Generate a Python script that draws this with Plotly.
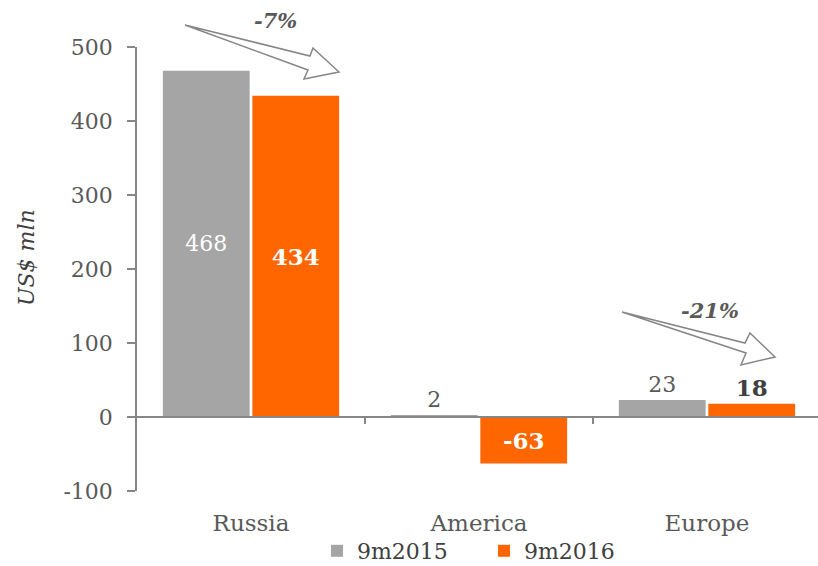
import plotly.graph_objects as go

# Data
regions = ["Russia", "America", "Europe"]
series_names = ["9m2015", "9m2016"]
values_2015 = [468, 2, 23]
values_2016 = [434, -63, 18]
change_labels = ["-7%", "-21%"]
y_ticks = [-100, 0, 100, 200, 300, 400, 500]

GRAY = "#A5A5A5"
ORANGE = "#FF6600"
TEXT = "#595959"
AXIS = "#868686"
FONT = "DejaVu Serif, Georgia, serif"

W, H = 818, 566
L, R, T, B = 137, 0, 47, 75
PW, PH = W - L - R, H - T - B


def px(x, y):
    """Pixel position -> paper coordinates."""
    return (x - L) / PW, (H - B - y) / PH


fig = go.Figure()

fig.add_trace(go.Bar(
    name=series_names[0], x=regions, y=values_2015,
    marker=dict(color=GRAY, line=dict(width=0)),
    text=[str(v) for v in values_2015],
    textposition=["inside", "outside", "outside"],
    insidetextanchor="middle",
    textfont=dict(family=FONT, size=22, color=["white", TEXT, TEXT]),
    cliponaxis=False,
))
fig.add_trace(go.Bar(
    name=series_names[1], x=regions, y=values_2016,
    marker=dict(color=ORANGE, line=dict(width=0)),
    text=[f"<b>{v}</b>" for v in values_2016],
    textposition=["inside", "inside", "outside"],
    insidetextanchor="middle",
    textfont=dict(family=FONT, size=23, color=["white", "white", "#404040"]),
    cliponaxis=False,
))

# Invisible helper trace so the zero-line axis renders
fig.add_trace(go.Scatter(x=[0], y=[0], xaxis="x2", mode="markers",
                         marker=dict(opacity=0), showlegend=False,
                         hoverinfo="skip"))

fig.update_layout(
    width=W, height=H,
    margin=dict(l=L, r=R, t=T, b=B, autoexpand=False),
    paper_bgcolor="white", plot_bgcolor="white",
    barmode="group", bargap=0.215, bargroupgap=0.03,
    font=dict(family=FONT, color=TEXT, size=22),
    showlegend=True,
    legend=dict(orientation="h", x=px(484, 0)[0], xanchor="center",
                y=px(0, 551)[1], yanchor="middle",
                font=dict(family=FONT, size=22, color="#404040"),
                itemwidth=30, entrywidth=122, bgcolor="rgba(0,0,0,0)"),
    xaxis=dict(range=[-0.5, 2.487], showline=False, ticks="",
               showgrid=False, zeroline=False, ticklabelstandoff=16,
               tickfont=dict(family=FONT, size=23, color=TEXT)),
    xaxis2=dict(overlaying="x", anchor="free", position=100 / 600,
                range=[-0.5, 2.487], tickvals=[0.5, 1.5],
                showticklabels=False, showline=True, linecolor=AXIS,
                linewidth=2, ticks="outside", ticklen=6, tickcolor=AXIS,
                tickwidth=1.5, showgrid=False, zeroline=False,
                layer="above traces"),
    yaxis=dict(range=[-100, 500], tickvals=y_ticks,
               ticktext=[str(v) for v in y_ticks], showgrid=False,
               zeroline=False, showline=True, linecolor=AXIS, linewidth=1.5,
               ticks="outside", ticklen=8, tickcolor=AXIS, tickwidth=1.5,
               ticklabelstandoff=10,
               tickfont=dict(family=FONT, size=22, color=TEXT)),
)

# Y axis title
tx, ty = px(26, 258)
fig.add_annotation(text="<i>US$ mln</i>", xref="paper", yref="paper",
                   x=tx, y=ty, xanchor="center", yanchor="middle",
                   textangle=-90, showarrow=False,
                   font=dict(family=FONT, size=22, color="#404040"))

# Block arrows showing year-on-year change
arrows = [
    [(185, 25), (310, 56), (313, 48), (339, 72), (304, 79), (308, 70)],
    [(622, 312), (745, 343), (750, 333), (775, 357), (741, 365), (746, 353)],
]
for pts in arrows:
    coords = [px(*p) for p in pts]
    path = "M" + " L".join(f"{x:.4f},{y:.4f}" for x, y in coords) + " Z"
    fig.add_shape(type="path", path=path, xref="paper", yref="paper",
                  line=dict(color=AXIS, width=1.5), fillcolor="white",
                  layer="above")

for lbl, (cx, cy) in zip(change_labels, [(275, 21), (710, 310)]):
    ax, ay = px(cx, cy)
    fig.add_annotation(text=f"<b><i>{lbl}</i></b>", xref="paper", yref="paper",
                       x=ax, y=ay, xanchor="center", yanchor="middle",
                       showarrow=False,
                       font=dict(family=FONT, size=21, color=TEXT))

fig.write_html("out.html")
